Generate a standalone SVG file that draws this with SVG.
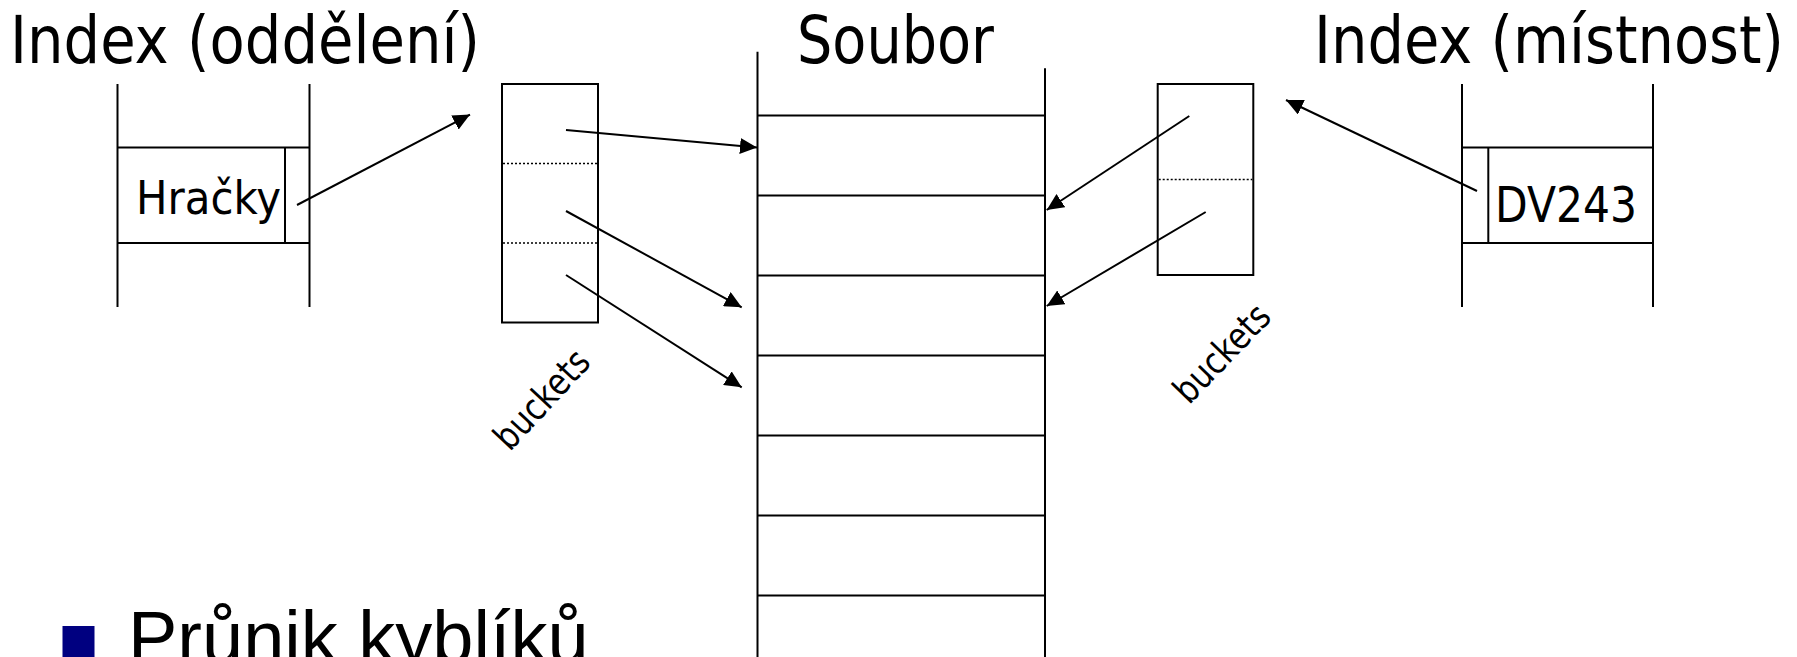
<svg xmlns="http://www.w3.org/2000/svg" width="1797" height="657" viewBox="0 0 1797 657">
<style>
.ln{stroke:#000;stroke-width:2;fill:none}
.dot{stroke:#000;stroke-width:1.6;stroke-dasharray:2 2;fill:none}
.box{stroke:#000;stroke-width:2;fill:#fff}
.t{font-family:"DejaVu Sans","Liberation Sans",sans-serif;fill:#000}
.ar{stroke:#000;stroke-width:2;fill:none;marker-end:url(#ah)}
</style>
<defs>
<marker id="ah" markerUnits="userSpaceOnUse" markerWidth="18" markerHeight="16" viewBox="0 0 18 16" refX="17" refY="8" orient="auto">
<path d="M0,0 L17,8 L0,16 Z" fill="#000"/>
</marker>
</defs>
<rect width="1797" height="657" fill="#fff"/>

<g id="title-left"><text class="t" x="10" y="63" font-size="66" textLength="470" lengthAdjust="spacingAndGlyphs">Index (oddělení)</text></g>
<g id="title-file"><text class="t" x="797" y="63" font-size="66" textLength="197" lengthAdjust="spacingAndGlyphs">Soubor</text></g>
<g id="title-right"><text class="t" x="1314" y="63" font-size="66" textLength="470" lengthAdjust="spacingAndGlyphs">Index (místnost)</text></g>

<g id="index-left">
<line class="ln" x1="117.5" y1="84" x2="117.5" y2="307"/>
<line class="ln" x1="309.5" y1="84" x2="309.5" y2="307"/>
<line class="ln" x1="117.5" y1="147.5" x2="309.5" y2="147.5"/>
<line class="ln" x1="117.5" y1="243" x2="309.5" y2="243"/>
<line class="ln" x1="285" y1="147.5" x2="285" y2="243"/>
<text class="t" x="136" y="213.5" font-size="47" textLength="145" lengthAdjust="spacingAndGlyphs">Hračky</text>
</g>

<g id="buckets-left">
<rect class="box" x="502" y="84" width="96" height="238.5"/>
<line class="dot" x1="503" y1="163.5" x2="597" y2="163.5"/>
<line class="dot" x1="503" y1="243" x2="597" y2="243"/>
<text class="t" x="551" y="408" font-size="37" text-anchor="middle" textLength="121" lengthAdjust="spacingAndGlyphs" transform="rotate(-47 551 408)">buckets</text>
</g>

<g id="file">
<line class="ln" x1="757.5" y1="51.7" x2="757.5" y2="657"/>
<line class="ln" x1="1045" y1="68.3" x2="1045" y2="657"/>
<line class="ln" x1="757.5" y1="115.5" x2="1045" y2="115.5"/>
<line class="ln" x1="757.5" y1="195.5" x2="1045" y2="195.5"/>
<line class="ln" x1="757.5" y1="275.5" x2="1045" y2="275.5"/>
<line class="ln" x1="757.5" y1="355.5" x2="1045" y2="355.5"/>
<line class="ln" x1="757.5" y1="435.5" x2="1045" y2="435.5"/>
<line class="ln" x1="757.5" y1="515.5" x2="1045" y2="515.5"/>
<line class="ln" x1="757.5" y1="595.5" x2="1045" y2="595.5"/>
</g>

<g id="buckets-right">
<rect class="box" x="1157.7" y="84" width="95.6" height="191"/>
<line class="dot" x1="1158.7" y1="179.5" x2="1252.3" y2="179.5"/>
<text class="t" x="1231" y="362" font-size="37" text-anchor="middle" textLength="121" lengthAdjust="spacingAndGlyphs" transform="rotate(-46 1231 362)">buckets</text>
</g>

<g id="index-right">
<line class="ln" x1="1462" y1="84" x2="1462" y2="307"/>
<line class="ln" x1="1653" y1="84" x2="1653" y2="307"/>
<line class="ln" x1="1462" y1="147.5" x2="1653" y2="147.5"/>
<line class="ln" x1="1462" y1="243" x2="1653" y2="243"/>
<line class="ln" x1="1488.3" y1="147.5" x2="1488.3" y2="243"/>
<text class="t" x="1495" y="221.7" font-size="50" textLength="142" lengthAdjust="spacingAndGlyphs">DV243</text>
</g>

<g id="connectors">
<line class="ar" x1="297" y1="205" x2="470" y2="114.6"/>
<line class="ar" x1="566" y1="130" x2="757" y2="147.5"/>
<line class="ar" x1="566" y1="211" x2="741.7" y2="307.3"/>
<line class="ar" x1="566" y1="275" x2="741.7" y2="387.3"/>
<line class="ar" x1="1189.3" y1="116" x2="1046.7" y2="210"/>
<line class="ar" x1="1205.7" y1="212" x2="1046.7" y2="306"/>
<line class="ar" x1="1477" y1="191" x2="1286" y2="100"/>
</g>

<g id="bullet">
<rect x="62.5" y="626" width="32" height="32" fill="#000080"/>
<text x="128" y="663" font-family="'Liberation Sans',Arial,sans-serif" font-size="74" fill="#000">Průnik kyblíků</text>
</g>
</svg>
